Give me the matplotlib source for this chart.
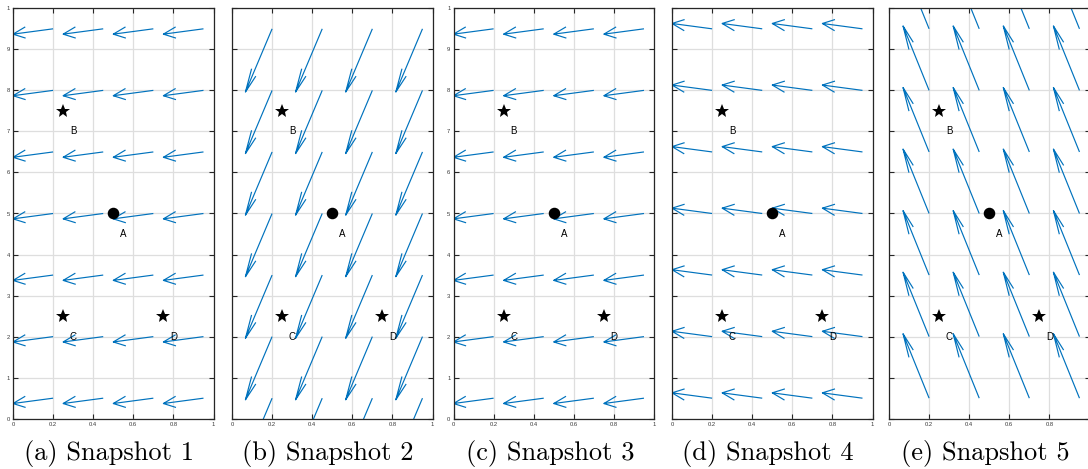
import numpy as np
import matplotlib
matplotlib.use("Agg")
import matplotlib.pyplot as plt

# Sample grid for the wind field (arrow tails)
x_tails = [0.2, 0.45, 0.7, 0.95]
y_tails = [0.5, 2.0, 3.5, 5.0, 6.5, 8.0, 9.5]

# Wind vector (u, v) shown in each snapshot
snap_u = [-0.2, -0.133, -0.2, -0.2, -0.13]
snap_v = [-0.13, -1.54, -0.13, 0.13, 1.57]
captions = ["(a) Snapshot 1", "(b) Snapshot 2", "(c) Snapshot 3",
            "(d) Snapshot 4", "(e) Snapshot 5"]
show_yticklabels = [True, False, True, False, False]

# Points of interest
circle_pts = {"A": (0.5, 5.0)}
star_pts = {"B": (0.25, 7.5), "C": (0.25, 2.5), "D": (0.75, 2.5)}
label_pos = {"A": (0.55, 4.5), "B": (0.3, 7.0), "C": (0.3, 2.0), "D": (0.8, 2.0)}

x_ticks = [0, 0.2, 0.4, 0.6, 0.8, 1]
x_ticklabels = ["0", "0.2", "0.4", "0.6", "0.8", "1"]
y_ticks = list(range(11))
y_ticklabels = ["0", "1", "2", "3", "4", "5", "6", "7", "8", "9", "1"]

XLIM = (0, 1)
YLIM = (0, 10)

BLUE = "#0072BD"
AXCOL = "#262626"
GRIDCOL = "#dedede"

W, H = 1088, 469
fig = plt.figure(figsize=(W / 100, H / 100), dpi=100)
fig.patch.set_facecolor("white")

ax_left_px = [13, 232, 453.5, 672, 889]
ax_w_px = 200.5
ax_top_px = 8.3
ax_bot_px = 418.7


def quiver_lines(U, V, alpha=0.31, beta=0.22):
    """Shafts plus open V heads, head shape computed in axis-normalised units."""
    X, Y = np.meshgrid(np.array(x_tails), np.array(y_tails))
    X = X.ravel()
    Y = Y.ravel()
    xs = XLIM[1] - XLIM[0]
    ys = YLIM[1] - YLIM[0]
    un, vn = U / xs, V / ys
    tx, ty = X + U, Y + V
    b1x = tx - alpha * (un + beta * vn) * xs
    b1y = ty - alpha * (vn - beta * un) * ys
    b2x = tx - alpha * (un - beta * vn) * xs
    b2y = ty - alpha * (vn + beta * un) * ys
    nan = np.full_like(X, np.nan)
    lx = np.column_stack([X, tx, nan, b1x, tx, b2x, nan]).ravel()
    ly = np.column_stack([Y, ty, nan, b1y, ty, b2y, nan]).ravel()
    return lx, ly


for i in range(5):
    l = ax_left_px[i] / W
    b = (H - ax_bot_px) / H
    w = ax_w_px / W
    h = (ax_bot_px - ax_top_px) / H
    ax = fig.add_axes([l, b, w, h])
    ax.set_xlim(*XLIM)
    ax.set_ylim(*YLIM)

    ax.set_xticks(x_ticks)
    ax.set_xticklabels(x_ticklabels)
    ax.set_yticks(y_ticks)
    if show_yticklabels[i]:
        ax.set_yticklabels(y_ticklabels)
    else:
        ax.set_yticklabels([])

    ax.grid(True, color=GRIDCOL, linewidth=0.9, zorder=0)
    ax.set_axisbelow(True)
    ax.tick_params(direction="in", length=3.5, width=0.8, color=AXCOL,
                   labelsize=4.2, labelcolor="#3a3a3a", pad=2.2,
                   top=True, right=True)
    for lab in ax.get_xticklabels() + ax.get_yticklabels():
        lab.set_fontfamily("Liberation Sans")
    for sp in ax.spines.values():
        sp.set_color(AXCOL)
        sp.set_linewidth(0.9)

    lx, ly = quiver_lines(snap_u[i], snap_v[i])
    ax.plot(lx, ly, color=BLUE, linewidth=0.85, solid_capstyle="butt",
            zorder=2)

    for name, (px, py) in circle_pts.items():
        ax.plot(px, py, "o", color="black", markersize=7.3, zorder=4)
    for name, (px, py) in star_pts.items():
        ax.plot(px, py, "*", color="black", markersize=10, zorder=4,
                markeredgewidth=0)
    for name, (px, py) in label_pos.items():
        ax.text(px, py, name, ha="center", va="center", fontsize=7,
                fontfamily="Liberation Sans", color="black", zorder=5)

    cx = (ax_left_px[i] + ax_w_px / 2 - 4) / W
    fig.text(cx, (H - 453) / H, captions[i], ha="center", va="center",
             fontsize=19, fontfamily="cmr10", color="black")

fig.savefig("out.png", dpi=100, facecolor="white")
